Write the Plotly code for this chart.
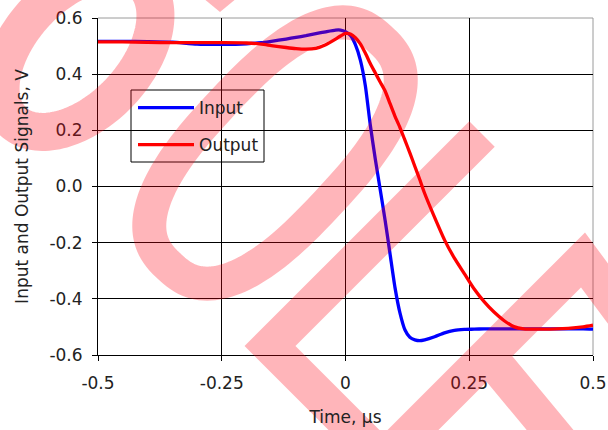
import numpy as np
import plotly.graph_objects as go

# ---------------- data ----------------
time_us = [-0.5, -0.45, -0.4, -0.35, -0.3, -0.25, -0.2, -0.17, -0.15, -0.12, -0.1, -0.08,
           -0.06, -0.04, -0.02, -0.01, 0.0, 0.01, 0.02, 0.03, 0.04, 0.05, 0.06, 0.07,
           0.08, 0.09, 0.10, 0.11, 0.12, 0.13, 0.14, 0.15, 0.16, 0.18, 0.20, 0.22,
           0.24, 0.26, 0.28, 0.30, 0.32, 0.34, 0.36, 0.40, 0.45, 0.48, 0.5]

input_v = [0.517, 0.517, 0.516, 0.514, 0.507, 0.506, 0.508, 0.512, 0.517, 0.525, 0.531, 0.537,
           0.544, 0.551, 0.557, 0.557, 0.551, 0.538, 0.505, 0.45, 0.36, 0.22, 0.10, -0.01,
           -0.12, -0.24, -0.36, -0.45, -0.51, -0.537, -0.546, -0.549, -0.546, -0.535, -0.521, -0.512,
           -0.509, -0.508, -0.507, -0.507, -0.507, -0.507, -0.507, -0.507, -0.507, -0.507, -0.508]

output_v = [0.515, 0.515, 0.513, 0.512, 0.512, 0.512, 0.511, 0.507, 0.502, 0.495, 0.491, 0.489,
            0.492, 0.505, 0.525, 0.536, 0.545, 0.543, 0.53, 0.508, 0.475, 0.438, 0.405, 0.372,
            0.34, 0.295, 0.25, 0.21, 0.165, 0.12, 0.072, 0.025, -0.025, -0.11, -0.19, -0.255,
            -0.31, -0.365, -0.41, -0.447, -0.477, -0.499, -0.507, -0.508, -0.505, -0.5, -0.494]

x_tick_vals = [-0.5, -0.25, 0, 0.25, 0.5]
x_tick_text = ["-0.5", "-0.25", "0", "0.25", "0.5"]
y_tick_vals = [-0.6, -0.4, -0.2, 0.0, 0.2, 0.4, 0.6]
y_tick_text = ["-0.6", "-0.4", "-0.2", "0.0", "0.2", "0.4", "0.6"]

series_names = ["Input", "Output"]
series_colors = ["#0000ff", "#ff0000"]

# ---------------- layout geometry ----------------
W, H = 608, 430
ML, MR, MT, MB = 98, 15, 18, 75
PX0, PX1, PY0, PY1 = ML, W - MR, MT, H - MB


def pxp(x):
    return (x - PX0) / (PX1 - PX0)


def pyp(y):
    return (PY1 - y) / (PY1 - PY0)


def poly(points):
    return "M" + " L".join(f"{pxp(x):.5f},{pyp(y):.5f}" for x, y in points)


def loop(cx, cy, a, b, ang, n_exp=2.0, n=160):
    th = np.radians(ang)
    u = np.array([np.cos(th), -np.sin(th)])
    v = np.array([np.sin(th), np.cos(th)])
    pts = []
    for t in np.linspace(0, 2 * np.pi, n, endpoint=False):
        c, s = np.cos(t), np.sin(t)
        p = a * np.sign(c) * abs(c) ** (2 / n_exp)
        q = b * np.sign(s) * abs(s) ** (2 / n_exp)
        pts.append(np.array([cx, cy]) + p * u + q * v)
    return poly(pts) + " Z"


font = dict(family="DejaVu Sans", size=17, color="#222222")

fig = go.Figure()
for name, col, vals in zip(series_names, series_colors, [input_v, output_v]):
    fig.add_trace(go.Scatter(x=time_us, y=vals, mode="lines", name=name,
                             legendgroup=name,
                             line=dict(color=col, width=3.3, shape="spline", smoothing=0.6)))

shapes = []
# legend box background
shapes.append(dict(type="rect", xref="paper", yref="paper",
                   x0=pxp(131), x1=pxp(264), y0=pyp(162), y1=pyp(90),
                   fillcolor="white", line=dict(color="black", width=1), layer="between"))
# grey top/right frame
shapes.append(dict(type="line", xref="paper", yref="paper", x0=0, x1=1, y0=1, y1=1,
                   line=dict(color="#9a9a9a", width=1), layer="between"))
shapes.append(dict(type="line", xref="paper", yref="paper", x0=1, x1=1, y0=0, y1=1,
                   line=dict(color="#9a9a9a", width=1), layer="between"))

# translucent watermark over the picture
wm = "rgba(255,0,17,0.29)"
shapes.append(dict(type="path", xref="paper", yref="paper",
                   path=loop(275, 153, 155, 72.5, 47, n_exp=2.6),
                   line=dict(color=wm, width=34), fillcolor="rgba(0,0,0,0)", layer="above"))
shapes.append(dict(type="path", xref="paper", yref="paper",
                   path=loop(78, 52, 95, 58, 47),
                   line=dict(color=wm, width=38), fillcolor="rgba(0,0,0,0)", layer="above"))
stroke_path = (poly([(482, 134), (270, 346), (390, 466)]) + " " +
               poly([(396, 447), (583, 260), (650, 350)]) + " " +
               poly([(487, 354), (575, 460)]))
shapes.append(dict(type="path", xref="paper", yref="paper", path=stroke_path,
                   line=dict(color=wm, width=36), fillcolor="rgba(0,0,0,0)", layer="above"))
shapes.append(dict(type="path", xref="paper", yref="paper",
                   path=poly([(203, -2), (237, -2), (220, 12)]) + " Z",
                   line=dict(width=0), fillcolor=wm, layer="above"))

fig.update_layout(
    width=W, height=H,
    margin=dict(l=ML, r=MR, t=MT, b=MB, autoexpand=False),
    paper_bgcolor="white", plot_bgcolor="white",
    font=font,
    showlegend=True,
    legend=dict(x=pxp(133), y=pyp(90), xanchor="left", yanchor="top",
                bgcolor="rgba(0,0,0,0)", borderwidth=0, itemwidth=56,
                tracegroupgap=12, font=font, traceorder="grouped"),
    shapes=shapes,
    xaxis=dict(range=[-0.5, 0.5], tickvals=x_tick_vals, ticktext=x_tick_text,
               showgrid=True, gridcolor="black", gridwidth=1, zeroline=False,
               showline=True, linecolor="black", linewidth=1,
               ticks="outside", ticklen=5, tickcolor="black", ticklabelstandoff=8,
               title=dict(text="Time, µs", standoff=18, font=font)),
    yaxis=dict(range=[-0.6, 0.6], tickvals=y_tick_vals, ticktext=y_tick_text,
               showgrid=True, gridcolor="black", gridwidth=1, zeroline=False,
               showline=True, linecolor="black", linewidth=1,
               ticks="outside", ticklen=5, tickcolor="black", ticklabelstandoff=6,
               title=dict(text="Input and Output Signals, V", standoff=16, font=font)),
)

fig.write_html("out.html", config={"displayModeBar": False},
               post_script="document.body.style.margin='0';document.body.style.overflow='hidden';")
